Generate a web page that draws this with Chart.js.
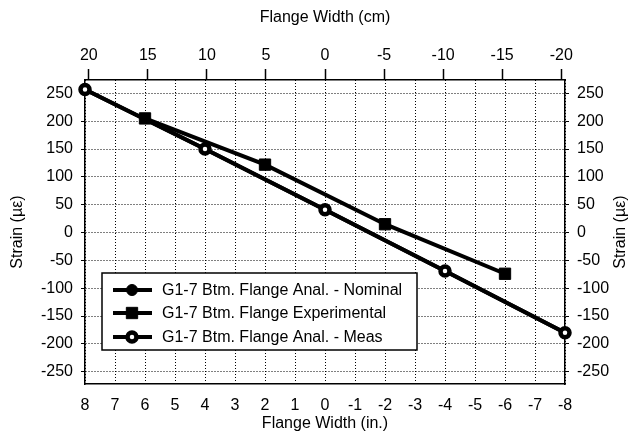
<!DOCTYPE html>
<html>
<head>
<meta charset="utf-8">
<script src="https://cdn.jsdelivr.net/npm/chart.js@4/dist/chart.umd.min.js"></script>
<style>
  html, body { margin: 0; padding: 0; background: #fff; }
</style>
</head>
<body>
<canvas id="chart" width="644" height="438"></canvas>
<script>
// flange positions in inches, strains in microstrain
const analPositions = [8, 4, 0, -4, -8];
const nominalStrain = [257, 150, 41, -69, -180];
const measStrain = [257, 150, 41, -69, -180];
const expPositions = [6, 2, -2, -6];
const expStrain = [205, 122, 15, -74];

const inchTicks = [8, 7, 6, 5, 4, 3, 2, 1, 0, -1, -2, -3, -4, -5, -6, -7, -8];
const cmTicks = [20, 15, 10, 5, 0, -5, -10, -15, -20];
const strainTicks = [250, 200, 150, 100, 50, 0, -50, -100, -150, -200, -250];

const seriesNames = [
  'G1-7 Btm. Flange Anal. - Nominal',
  'G1-7 Btm. Flange Experimental',
  'G1-7 Btm. Flange Anal. - Meas'
];

function toPoints(xs, ys) {
  return xs.map((x, i) => ({ x: x, y: ys[i] }));
}

Chart.defaults.font.family = "'Liberation Sans', Arial, sans-serif";
Chart.defaults.font.size = 16;
Chart.defaults.color = '#000';

const legendBox = {
  id: 'legendBox',
  afterDatasetsDraw(chart) {
    const ctx = chart.ctx;
    const x0 = 102, y0 = 273, w = 315, h = 77;
    ctx.save();
    ctx.fillStyle = '#fff';
    ctx.fillRect(x0, y0, w, h);
    ctx.lineWidth = 1.5;
    ctx.strokeStyle = '#000';
    ctx.strokeRect(x0, y0, w, h);
    const rows = [290, 313, 337];
    chart.data.datasets.forEach((ds, i) => {
      const y = rows[i];
      ctx.beginPath();
      ctx.lineWidth = 4;
      ctx.strokeStyle = '#000';
      ctx.moveTo(113, y);
      ctx.lineTo(152, y);
      ctx.stroke();
      ctx.fillStyle = ds.pointBackgroundColor;
      ctx.strokeStyle = '#000';
      ctx.lineWidth = ds.pointBorderWidth;
      Chart.helpers.drawPoint(ctx, {
        pointStyle: ds.pointStyle,
        radius: ds.pointRadius,
        rotation: 0,
        borderWidth: ds.pointBorderWidth
      }, 132, y);
      ctx.fillStyle = '#000';
      ctx.font = "16px 'Liberation Sans', Arial, sans-serif";
      ctx.textBaseline = 'middle';
      ctx.textAlign = 'left';
      ctx.fillText(ds.label, 162, y + 1);
    });
    ctx.restore();
  }
};

const rightTitle = {
  id: 'rightTitle',
  afterDraw(chart) {
    const ctx = chart.ctx;
    ctx.save();
    ctx.translate(621, 232);
    ctx.rotate(-Math.PI / 2);
    ctx.fillStyle = '#000';
    ctx.font = "16px 'Liberation Sans', Arial, sans-serif";
    ctx.textAlign = 'center';
    ctx.textBaseline = 'middle';
    ctx.fillText('Strain (\u00b5\u03b5)', 0, 0);
    ctx.restore();
  }
};

new Chart(document.getElementById('chart'), {
  type: 'line',
  data: {
    datasets: [
      {
        label: seriesNames[0],
        data: toPoints(analPositions, nominalStrain),
        borderColor: '#000',
        borderWidth: 4,
        pointStyle: 'circle',
        pointRadius: 5.5,
        pointBackgroundColor: '#000',
        pointBorderColor: '#000',
        pointBorderWidth: 1,
        order: 2
      },
      {
        label: seriesNames[1],
        data: toPoints(expPositions, expStrain),
        borderColor: '#000',
        borderWidth: 4,
        pointStyle: 'rect',
        pointRadius: 8,
        pointBackgroundColor: '#000',
        pointBorderColor: '#000',
        pointBorderWidth: 1,
        order: 1
      },
      {
        label: seriesNames[2],
        data: toPoints(analPositions, measStrain),
        borderColor: '#000',
        borderWidth: 4,
        pointStyle: 'circle',
        pointRadius: 4.5,
        pointBackgroundColor: '#fff',
        pointBorderColor: '#000',
        pointBorderWidth: 4.5,
        order: 0
      }
    ]
  },
  options: {
    responsive: false,
    animation: false,
    devicePixelRatio: 1,
    layout: { padding: 0 },
    elements: { line: { tension: 0 } },
    datasets: { line: { clip: false } },
    plugins: {
      legend: { display: false },
      tooltip: { enabled: false }
    },
    scales: {
      x: {
        type: 'linear',
        position: 'bottom',
        min: -8,
        max: 8,
        reverse: true,
        afterBuildTicks: (s) => { s.ticks = inchTicks.map(v => ({ value: v })); },
        afterFit: (s) => { s.height = 54; },
        grid: { color: '#000', lineWidth: 1, drawTicks: false },
        border: { color: '#000', width: 1.5, dash: [1, 2] },
        ticks: { padding: 12, maxRotation: 0, autoSkip: false },
        title: { display: true, text: 'Flange Width (in.)', padding: { top: 0, bottom: 5 } }
      },
      x2: {
        type: 'linear',
        axis: 'x',
        position: 'top',
        min: -20.32,
        max: 20.32,
        reverse: true,
        afterBuildTicks: (s) => { s.ticks = cmTicks.map(v => ({ value: v })); },
        afterFit: (s) => { s.height = 80; },
        grid: { drawOnChartArea: false, tickLength: 11, tickWidth: 1.5, tickColor: '#000' },
        border: { color: '#000', width: 1.5 },
        ticks: { padding: 4, maxRotation: 0, autoSkip: false },
        title: { display: true, text: 'Flange Width (cm)', padding: { top: 8, bottom: 0 } }
      },
      y: {
        type: 'linear',
        position: 'left',
        min: -272,
        max: 274,
        afterBuildTicks: (s) => { s.ticks = strainTicks.map(v => ({ value: v })); },
        afterFit: (s) => { s.width = 85; },
        grid: { color: '#000', lineWidth: 1, tickLength: 4, tickColor: '#000', tickWidth: 1 },
        border: { color: '#000', width: 1.5, dash: [1, 2] },
        ticks: { padding: 8 },
        title: { display: true, text: 'Strain (\u00b5\u03b5)', padding: { top: 8, bottom: 0 } }
      },
      y2: {
        type: 'linear',
        axis: 'y',
        position: 'right',
        min: -272,
        max: 274,
        afterBuildTicks: (s) => { s.ticks = strainTicks.map(v => ({ value: v })); },
        afterFit: (s) => { s.width = 79; },
        grid: { drawOnChartArea: false, tickLength: 4, tickColor: '#000', tickWidth: 1 },
        border: { color: '#000', width: 1.5 },
        ticks: { padding: 8 }
      }
    }
  },
  plugins: [legendBox, rightTitle]
});
</script>
</body>
</html>
